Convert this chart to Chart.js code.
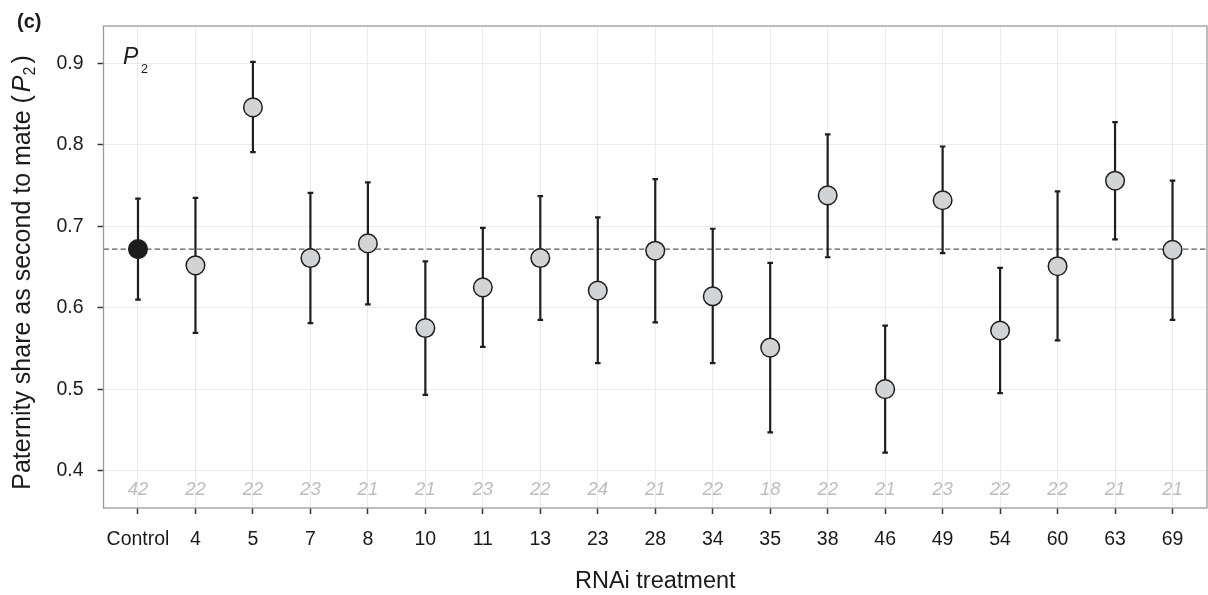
<!DOCTYPE html>
<html><head><meta charset="utf-8">
<script src="https://cdn.jsdelivr.net/npm/chart.js@4"></script>
<style>html,body{margin:0;padding:0;background:#fff;} canvas{display:block;}</style>
</head><body>
<canvas id="c" width="1208" height="595" style="width:1208px;height:595px"></canvas>
<script>
const categories = ['Control','4','5','7','8','10','11','13','23','28','34','35','38','46','49','54','60','63','69'];
const means = [0.672,0.652,0.846,0.661,0.679,0.575,0.625,0.661,0.621,0.670,0.614,0.551,0.738,0.500,0.732,0.572,0.651,0.756,0.671];
const upper = [0.734,0.735,0.902,0.741,0.754,0.657,0.698,0.737,0.711,0.758,0.697,0.655,0.813,0.578,0.798,0.649,0.743,0.828,0.756];
const lower = [0.610,0.569,0.791,0.581,0.604,0.493,0.552,0.585,0.532,0.582,0.532,0.447,0.662,0.422,0.667,0.495,0.560,0.684,0.585];
const sampleSizes = [42,22,22,23,21,21,23,22,24,21,22,18,22,21,23,22,22,21,21];
const yTicks = [0.4,0.5,0.6,0.7,0.8,0.9];
const controlMean = 0.672;
const sampleLabelY = 0.376;

const FONT = '"Liberation Sans", Arial, Helvetica, sans-serif';

const decor = {
  id: 'decor',
  beforeDatasetsDraw(chart) {
    const {ctx, chartArea: a, scales: {x, y}} = chart;
    ctx.save();
    ctx.beginPath(); ctx.rect(a.left, a.top, a.right - a.left, a.bottom - a.top); ctx.clip();
    // sample sizes
    ctx.fillStyle = '#bdbdbd';
    ctx.font = 'italic 18.5px ' + FONT;
    ctx.textAlign = 'center'; ctx.textBaseline = 'middle';
    sampleSizes.forEach((n, i) => ctx.fillText(String(n), x.getPixelForValue(i), y.getPixelForValue(sampleLabelY)));
    // dashed reference line
    const yy = y.getPixelForValue(controlMean);
    ctx.strokeStyle = '#5e5e5e'; ctx.lineWidth = 1.4; ctx.setLineDash([5.5, 3]);
    ctx.beginPath(); ctx.moveTo(a.left, yy); ctx.lineTo(a.right, yy); ctx.stroke();
    ctx.setLineDash([]);
    // error bars
    ctx.strokeStyle = '#1e1e1e'; ctx.lineWidth = 2.2; ctx.lineCap = 'butt';
    categories.forEach((c, i) => {
      const px = x.getPixelForValue(i), pu = y.getPixelForValue(upper[i]), pl = y.getPixelForValue(lower[i]);
      ctx.beginPath();
      ctx.moveTo(px, pu); ctx.lineTo(px, pl);
      ctx.moveTo(px - 2.8, pu); ctx.lineTo(px + 2.8, pu);
      ctx.moveTo(px - 2.8, pl); ctx.lineTo(px + 2.8, pl);
      ctx.stroke();
    });
    ctx.restore();
  },
  afterDraw(chart) {
    const {ctx, chartArea: a} = chart;
    ctx.save();
    // panel border
    ctx.strokeStyle = '#9a9a9a'; ctx.lineWidth = 1.3;
    ctx.strokeRect(a.left, a.top, a.right - a.left, a.bottom - a.top);
    ctx.fillStyle = '#1a1a1a';
    // panel tag
    ctx.font = 'bold 20px ' + FONT; ctx.textAlign = 'left'; ctx.textBaseline = 'alphabetic';
    ctx.fillText('(c)', 17, 27.5);
    // P2 label inside panel
    ctx.font = 'italic 23px ' + FONT;
    ctx.fillText('P', 123, 63.5);
    ctx.font = '12.5px ' + FONT;
    ctx.fillText('2', 141, 73);
    // x title
    ctx.font = '23.5px ' + FONT; ctx.textAlign = 'center';
    ctx.fillText('RNAi treatment', (a.left + a.right) / 2, 587.5);
    // y title (rotated)
    ctx.translate(29.5, 272.5);
    ctx.rotate(-Math.PI / 2);
    ctx.textAlign = 'left';
    const main = 'Paternity share as second to mate (';
    const fMain = '25px ' + FONT, fIt = 'italic 25px ' + FONT, fSub = '16px ' + FONT;
    ctx.font = fMain; const w1 = ctx.measureText(main).width; const w4 = ctx.measureText(')').width;
    ctx.font = fIt; const w2 = ctx.measureText('P').width;
    ctx.font = fSub; const w3 = ctx.measureText('2').width;
    const gap = 3;
    const total = w1 + gap + w2 + w3 + gap + w4;
    let sx = -total / 2;
    ctx.font = fMain; ctx.fillText(main, sx, 0); sx += w1 + gap;
    ctx.font = fIt; ctx.fillText('P', sx, 0); sx += w2;
    ctx.font = fSub; ctx.fillText('2', sx, 5); sx += w3 + gap;
    ctx.font = fMain; ctx.fillText(')', sx, 0);
    ctx.restore();
  }
};

new Chart(document.getElementById('c'), {
  type: 'scatter',
  data: {
    datasets: [{
      data: means.map((m, i) => ({x: i, y: m})),
      pointRadius: 9.3, pointHoverRadius: 9.3,
      pointBackgroundColor: means.map((m, i) => i === 0 ? '#1c1c1c' : '#d2d3d5'),
      pointBorderColor: '#1e1e1e', pointBorderWidth: 1.5,
      showLine: false, clip: false
    }]
  },
  options: {
    responsive: false, animation: false, devicePixelRatio: 1,
    layout: {autoPadding: false, padding: {top: 26, right: 1, left: 0, bottom: 0}},
    plugins: {legend: {display: false}, tooltip: {enabled: false}},
    scales: {
      x: {
        type: 'linear', min: -0.6, max: categories.length - 1 + 0.6,
        afterBuildTicks: s => { s.ticks = categories.map((c, i) => ({value: i})); },
        afterFit: s => { s.height = 87; s.paddingLeft = 0; s.paddingRight = 0; },
        ticks: {callback: v => categories[v], autoSkip: false, maxRotation: 0, minRotation: 0,
                font: {family: FONT, size: 19.5}, color: '#1a1a1a', padding: 14},
        grid: {color: '#ebebeb', lineWidth: 1, tickColor: '#333', tickLength: 6, tickWidth: 1.5},
        border: {display: false}
      },
      y: {
        min: 0.354, max: 0.946,
        afterBuildTicks: s => { s.ticks = yTicks.map(v => ({value: v})); },
        afterFit: s => { s.width = 103.5; s.paddingTop = 0; s.paddingBottom = 0; },
        ticks: {callback: v => Number(v).toFixed(1), font: {family: FONT, size: 19.5}, color: '#1a1a1a', padding: 14},
        grid: {color: '#ebebeb', lineWidth: 1, tickColor: '#333', tickLength: 6, tickWidth: 1.5},
        border: {display: false}
      }
    }
  },
  plugins: [decor]
});
</script>
</body></html>
